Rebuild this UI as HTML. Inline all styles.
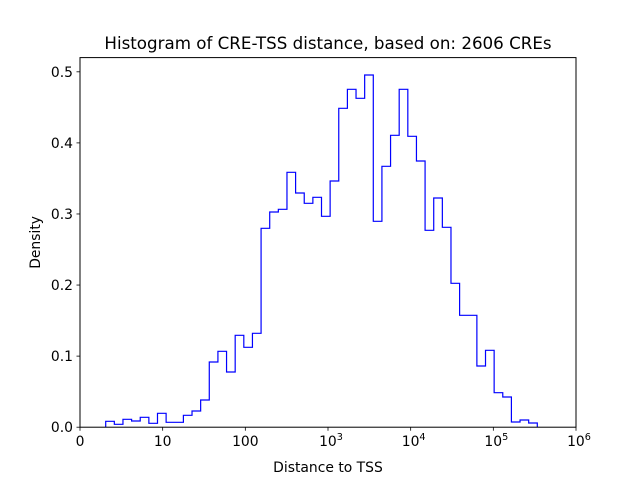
<!DOCTYPE html>
<html><head><meta charset="utf-8"><style>
html,body{margin:0;padding:0;background:#fff;}
svg{display:block;font-family:"DejaVu Sans","Liberation Sans",sans-serif;}
</style></head><body>
<svg id="s" width="640" height="480" xmlns="http://www.w3.org/2000/svg">
<rect width="640" height="480" fill="#fff"/>
<path id="h" fill="none" stroke="#0000ff" stroke-width="1.2" d=""/>
<rect x="80" y="57.6" width="496" height="369.6" fill="none" stroke="#000" stroke-width="1"/>
<g id="t" font-size="13.9" fill="#000"></g>
<text x="328" y="49" font-size="16.7" text-anchor="middle">Histogram of CRE-TSS distance, based on: 2606 CREs</text>
<text x="328" y="472" font-size="13.9" text-anchor="middle">Distance to TSS</text>
<text transform="translate(40,242.4) rotate(-90)" font-size="13.9" text-anchor="middle">Density</text>
</svg>
<script>
var ys=[421.3,424.3,419.3,421,417.3,423.3,413.3,422.3,422.3,415.3,411,400,362,351.3,372,335.3,347.3,333.3,228.3,212,209.3,172.3,193,203.3,197.3,216.3,181,108.3,89.3,98.3,75,221.3,166.3,135.3,89.3,136.3,161,230.3,198,227.3,283.3,315.3,315.3,366,350.3,392.7,397,422,420,423];
var x0=105.7,w=8.632,d="M"+x0+",427.2";
for(var i=0;i<ys.length;i++){d+=" V"+ys[i]+" H"+(x0+(i+1)*w).toFixed(2);}
d+=" V427.2";
document.getElementById("h").setAttribute("d",d);
var g=document.getElementById("t"),h="";
var lab=["0","10","100","10<tspan dy='-6' font-size='9.7'>3</tspan>","10<tspan dy='-6' font-size='9.7'>4</tspan>","10<tspan dy='-6' font-size='9.7'>5</tspan>","10<tspan dy='-6' font-size='9.7'>6</tspan>"];
for(var k=0;k<=6;k++){var x=80+82.667*k;h+="<line x1='"+x+"' x2='"+x+"' y1='427.2' y2='430.7' stroke='#000' stroke-width='0.8'/>";h+="<text x='"+(k>=3?x+3:x)+"' y='446' text-anchor='middle'>"+lab[k]+"</text>";}
for(var j=0;j<=5;j++){var y=427.2-j*0.1/0.52*369.6;h+="<line x1='76.5' x2='80' y1='"+y+"' y2='"+y+"' stroke='#000' stroke-width='0.8'/>";h+="<text x='73' y='"+(y+5)+"' text-anchor='end'>"+(j==0?"0.0":"0."+j)+"</text>";}
g.innerHTML=h;
</script>
</body></html>
